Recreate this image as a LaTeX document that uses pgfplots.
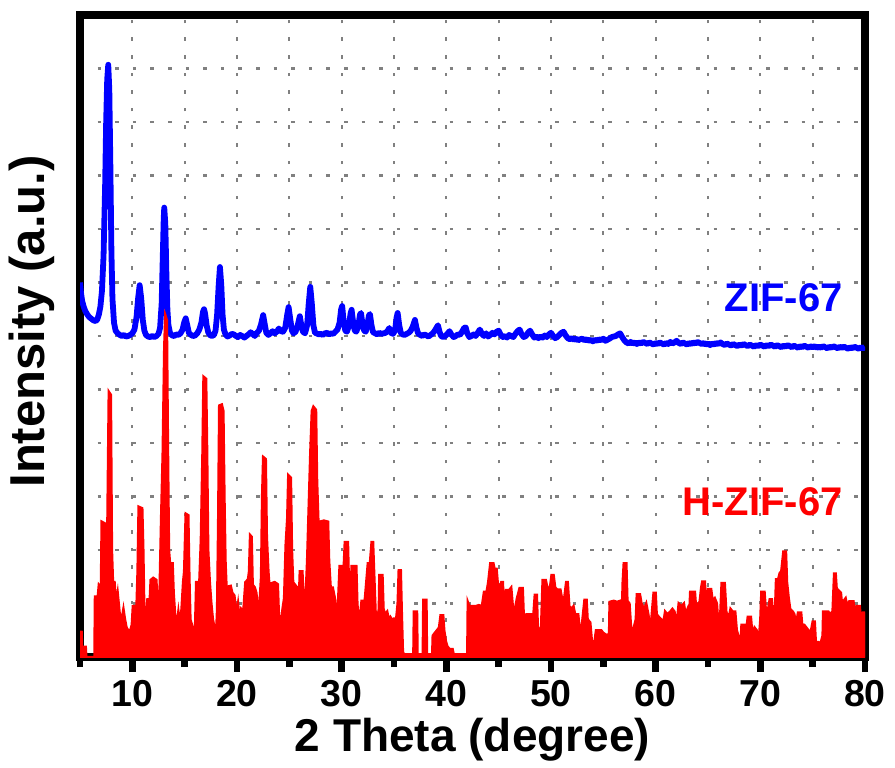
\documentclass[border=0pt]{standalone}
\usepackage{fontspec}
\setmainfont{Liberation Sans}
\usepackage{pgfplots}
\pgfplotsset{compat=1.18}
\begin{document}
\begin{tikzpicture}
\path[use as bounding box] (-40pt,-55pt) rectangle (407.5pt,328.5pt);
\begin{axis}[
  at={(0pt,0pt)}, anchor=south west,
  scale only axis, width=392.5pt, height=321pt,
  xmin=5, xmax=80, ymin=0, ymax=12,
  xtick={10,20,...,80},
  xticklabels={10,20,30,40,50,60,70,80},
  minor xtick={5,15,25,...,75},
  ytick={1,2,...,11},
  yticklabels={},
  xtick pos=bottom, ytick pos=left,
  tick align=outside,
  major tick length=7.5pt, minor tick length=5pt,
  x tick style={line width=3.2pt, black},
  y tick style={draw=none},
  axis line style={line width=3.6pt, black, line cap=rect},
  separate axis lines,
  every outer x axis line/.append style={line width=3.6pt, black, line cap=rect},
  every outer y axis line/.append style={line width=3.6pt, black, line cap=rect},
  grid=both,
  grid style={gray, line width=1.1pt, dash pattern=on 1.8pt off 7pt},
  minor grid style={gray, line width=1.1pt, dash pattern=on 1.8pt off 7pt},
  xticklabel style={font=\fontsize{18.75}{20}\selectfont\bfseries, anchor=north, inner sep=0pt},
  xticklabel shift=4pt,
  xlabel={2 Theta (degree)},
  ylabel={Intensity (a.u.)},
  xlabel style={at={(axis description cs:0.5,-0.129)}, anchor=center, font=\fontsize{23}{26}\selectfont\bfseries},
  ylabel style={at={(axis description cs:-0.0611,0.5226)}, anchor=center, font=\fontsize{24.5}{28}\selectfont\bfseries},
]
\addplot[blue, line width=2.9pt, line join=round] coordinates {
(5.00,7.00) (5.10,6.80) (5.20,6.66) (5.35,6.55) (5.50,6.47) (5.70,6.40) (5.90,6.35) (6.10,6.32) (6.30,6.29) (6.50,6.28)
(6.65,6.31) (6.80,6.40) (6.95,6.55) (7.10,6.85) (7.25,7.50) (7.40,8.80) (7.50,10.0) (7.60,10.8) (7.70,11.07) (7.80,10.6)
(7.90,9.2) (8.00,7.6) (8.10,6.7) (8.25,6.25) (8.40,6.10) (8.60,6.05) (8.80,6.02) (9.00,6.00) (9.20,6.02) (9.40,5.99)
(9.60,6.00) (9.80,6.02) (10.00,6.05) (10.20,6.12) (10.40,6.35) (10.55,6.70) (10.70,6.95) (10.85,6.70) (11.00,6.30) (11.15,6.10)
(11.30,6.02) (11.50,5.99) (11.70,5.98) (11.90,6.00) (12.10,5.98) (12.30,6.00) (12.50,6.04) (12.65,6.15) (12.80,6.60) (12.90,7.40)
(13.00,8.20) (13.05,8.40) (13.15,8.10) (13.25,7.20) (13.35,6.50) (13.45,6.20) (13.60,6.06) (13.80,6.01) (14.00,6.00) (14.20,6.03)
(14.40,6.02) (14.60,6.05) (14.80,6.12) (14.95,6.25) (15.10,6.33) (15.25,6.20) (15.40,6.06) (15.60,6.02) (15.80,6.00) (16.00,6.01)
(16.20,6.05) (16.40,6.12) (16.60,6.25) (16.75,6.45) (16.85,6.50) (16.95,6.42) (17.10,6.20) (17.25,6.07) (17.40,6.02) (17.60,6.00)
(17.80,6.02) (17.95,6.10) (18.10,6.40) (18.25,6.95) (18.37,7.29) (18.50,6.95) (18.62,6.40) (18.75,6.12) (18.90,6.03) (19.10,5.99)
(19.30,6.01) (19.50,6.04) (19.70,6.03) (19.90,6.00) (20.10,5.98) (20.30,6.02) (20.50,6.00) (20.70,5.97) (20.90,6.00) (21.10,6.03)
(21.30,6.07) (21.50,6.04) (21.70,6.00) (21.90,6.06) (22.10,6.10) (22.30,6.22) (22.50,6.39) (22.65,6.22) (22.80,6.06) (23.00,6.02)
(23.20,6.05) (23.40,6.09) (23.60,6.05) (23.80,6.08) (24.00,6.14) (24.20,6.09) (24.40,6.08) (24.60,6.15) (24.80,6.40) (24.93,6.54)
(25.10,6.30) (25.25,6.10) (25.40,6.05) (25.60,6.08) (25.80,6.20) (26.00,6.37) (26.15,6.20) (26.30,6.08) (26.50,6.05) (26.70,6.20)
(26.85,6.60) (27.00,6.92) (27.15,6.60) (27.30,6.20) (27.45,6.06) (27.60,6.05) (27.80,6.03) (28.00,6.04) (28.20,6.02) (28.40,6.05)
(28.60,6.06) (28.80,6.03) (29.00,6.05) (29.20,6.04) (29.40,6.08) (29.60,6.12) (29.80,6.25) (29.95,6.50) (30.05,6.56) (30.20,6.25)
(30.35,6.10) (30.50,6.08) (30.70,6.20) (30.85,6.42) (30.95,6.49) (31.10,6.25) (31.25,6.10) (31.40,6.08) (31.60,6.20) (31.75,6.40)
(31.85,6.43) (32.00,6.20) (32.15,6.10) (32.30,6.08) (32.45,6.20) (32.60,6.38) (32.70,6.41) (32.85,6.20) (33.00,6.07) (33.20,6.05)
(33.40,6.03) (33.60,6.06) (33.80,6.04) (34.00,6.05) (34.20,6.06) (34.40,6.10) (34.55,6.15) (34.70,6.06) (34.90,6.04) (35.10,6.10)
(35.25,6.35) (35.35,6.43) (35.50,6.20) (35.65,6.06) (35.80,6.03) (36.00,6.02) (36.20,6.04) (36.40,6.06) (36.60,6.10) (36.80,6.18)
(37.00,6.30) (37.15,6.15) (37.30,6.05) (37.50,6.02) (37.70,6.00) (37.90,6.03) (38.10,6.01) (38.30,5.99) (38.50,6.02) (38.70,6.05)
(38.90,6.10) (39.05,6.15) (39.20,6.20) (39.35,6.08) (39.50,6.00) (39.70,5.98) (39.90,6.00) (40.10,6.04) (40.30,6.09) (40.50,6.02)
(40.70,5.98) (40.90,6.00) (41.10,6.03) (41.30,6.02) (41.50,6.08) (41.70,6.15) (41.85,6.16) (42.00,6.05) (42.20,5.98) (42.40,6.00)
(42.60,6.03) (42.80,6.00) (43.00,6.06) (43.20,6.12) (43.40,6.04) (43.60,6.00) (43.80,6.05) (44.00,5.99) (44.20,6.02) (44.40,6.06)
(44.60,6.03) (44.80,6.08) (45.00,6.10) (45.20,6.02) (45.40,5.98) (45.60,6.00) (45.80,5.97) (46.00,6.02) (46.20,6.00) (46.40,5.98)
(46.60,6.04) (46.80,6.09) (47.00,6.12) (47.20,6.03) (47.40,5.98) (47.60,6.00) (47.80,6.06) (48.00,6.10) (48.20,6.03) (48.40,5.97)
(48.60,5.99) (48.80,5.96) (49.00,5.99) (49.20,5.97) (49.40,6.01) (49.60,5.98) (49.80,6.03) (50.00,6.06) (50.20,6.00) (50.40,5.96)
(50.60,5.98) (50.80,6.02) (51.00,6.06) (51.20,6.08) (51.40,6.01) (51.60,5.96) (51.80,5.94) (52.00,5.96) (52.20,5.93) (52.40,5.95)
(52.60,5.92) (52.80,5.94) (53.00,5.95) (53.20,5.92) (53.40,5.94) (53.60,5.91) (53.80,5.93) (54.00,5.90) (54.20,5.93) (54.40,5.91)
(54.60,5.94) (54.80,5.92) (55.00,5.95) (55.20,5.91) (55.40,5.93) (55.60,5.95) (55.80,5.98) (56.00,5.99) (56.20,6.00) (56.40,6.03)
(56.60,6.05) (56.80,5.98) (57.00,5.92) (57.20,5.88) (57.40,5.86) (57.60,5.89) (57.80,5.86) (58.00,5.88) (58.20,5.85) (58.40,5.88)
(58.60,5.86) (58.80,5.89) (59.00,5.87) (59.20,5.85) (59.40,5.88) (59.60,5.86) (59.80,5.84) (60.00,5.87) (60.20,5.85) (60.40,5.88)
(60.60,5.86) (60.80,5.84) (61.00,5.87) (61.20,5.85) (61.40,5.89) (61.60,5.86) (61.80,5.88) (62.00,5.91) (62.20,5.87) (62.40,5.85)
(62.60,5.88) (62.80,5.86) (63.00,5.84) (63.20,5.87) (63.40,5.85) (63.60,5.88) (63.80,5.86) (64.00,5.89) (64.20,5.87) (64.40,5.85)
(64.60,5.87) (64.80,5.84) (65.00,5.86) (65.20,5.83) (65.40,5.86) (65.60,5.84) (65.80,5.87) (66.00,5.85) (66.20,5.88) (66.40,5.85)
(66.60,5.83) (66.80,5.86) (67.00,5.84) (67.20,5.82) (67.40,5.85) (67.60,5.83) (67.80,5.81) (68.00,5.84) (68.20,5.82) (68.40,5.85)
(68.60,5.83) (68.80,5.81) (69.00,5.84) (69.20,5.82) (69.40,5.80) (69.60,5.83) (69.80,5.81) (70.00,5.84) (70.20,5.82) (70.40,5.80)
(70.60,5.83) (70.80,5.81) (71.00,5.84) (71.20,5.82) (71.40,5.80) (71.60,5.83) (71.80,5.81) (72.00,5.79) (72.20,5.82) (72.40,5.80)
(72.60,5.83) (72.80,5.81) (73.00,5.79) (73.20,5.82) (73.40,5.80) (73.60,5.78) (73.80,5.81) (74.00,5.79) (74.20,5.82) (74.40,5.80)
(74.60,5.78) (74.80,5.81) (75.00,5.79) (75.20,5.81) (75.40,5.78) (75.60,5.80) (75.80,5.78) (76.00,5.81) (76.20,5.79) (76.40,5.77)
(76.60,5.80) (76.80,5.78) (77.00,5.81) (77.20,5.79) (77.40,5.77) (77.60,5.80) (77.80,5.78) (78.00,5.80) (78.20,5.78) (78.40,5.76)
(78.60,5.79) (78.80,5.77) (79.00,5.80) (79.20,5.78) (79.40,5.76) (79.60,5.79) (79.80,5.77) (80.00,5.79)
};
\addplot[red, fill=red, line width=1.2pt, line join=miter] coordinates {
(5.00,0.47) (5.15,0.47) (5.20,0.19) (5.55,0.19) (5.60,0.00) (6.38,0.00) (6.43,1.13) (6.70,1.13) (6.80,1.35) (7.00,1.30)
(7.07,2.53) (7.35,2.50) (7.45,1.60) (7.60,2.20) (7.75,4.96) (7.95,4.90) (8.05,2.00) (8.15,1.40) (8.30,1.40) (8.45,1.00)
(8.60,1.20) (8.80,0.80) (9.00,0.73) (9.15,0.90) (9.30,0.70) (9.45,0.55) (9.60,0.50) (9.80,0.50) (9.95,0.60) (10.05,0.95)
(10.40,0.95) (10.50,1.60) (10.60,2.81) (10.95,2.78) (11.05,2.00) (11.15,0.80) (11.30,0.70) (11.45,1.10) (11.60,0.80) (11.75,1.44)
(12.00,1.48) (12.30,1.44) (12.45,0.70) (12.60,1.20) (12.75,2.60) (12.90,3.80) (13.05,5.80) (13.15,6.39) (13.30,6.30) (13.40,4.00)
(13.50,2.00) (13.60,1.75) (13.85,1.75) (13.95,1.20) (14.10,0.75) (14.25,0.60) (14.40,0.85) (14.55,0.60) (14.70,0.90) (14.85,1.40)
(14.95,1.60) (15.10,2.68) (15.35,2.65) (15.45,1.50) (15.55,0.70) (15.70,0.60) (15.85,0.40) (16.00,0.60) (16.10,1.40) (16.40,1.40)
(16.55,2.20) (16.70,3.80) (16.80,5.24) (17.05,5.20) (17.15,3.80) (17.25,2.00) (17.40,1.40) (17.55,1.00) (17.70,0.70) (17.85,0.55)
(18.00,0.40) (18.10,0.90) (18.20,2.50) (18.30,4.70) (18.55,4.72) (18.70,4.60) (18.80,3.00) (18.90,1.80) (19.00,1.31) (19.40,1.33)
(19.55,1.20) (19.75,1.15) (19.95,0.80) (20.10,1.00) (20.25,0.70) (20.40,0.90) (20.60,0.85) (20.80,1.40) (21.05,1.45) (21.15,1.60)
(21.25,2.28) (21.40,2.25) (21.50,1.35) (21.70,1.30) (21.85,1.20) (22.00,0.90) (22.15,1.00) (22.30,1.50) (22.40,3.00) (22.50,3.74)
(22.75,3.70) (22.85,2.25) (23.00,1.60) (23.15,1.20) (23.30,1.38) (23.60,1.40) (23.90,1.36) (24.00,0.80) (24.20,0.60) (24.35,0.90)
(24.50,1.10) (24.65,2.10) (24.80,2.60) (24.90,3.40) (25.15,3.35) (25.25,2.00) (25.40,1.20) (25.55,1.35) (25.75,1.30) (25.90,1.00)
(26.00,1.60) (26.25,1.60) (26.40,0.90) (26.55,1.10) (26.70,1.80) (26.85,2.80) (27.00,3.80) (27.15,4.60) (27.30,4.68) (27.55,4.62)
(27.65,3.30) (27.80,2.40) (27.90,2.53) (28.30,2.55) (28.70,2.53) (28.80,1.80) (28.95,1.30) (29.15,1.30) (29.35,1.10) (29.50,0.80)
(29.65,1.00) (29.80,1.70) (30.20,1.70) (30.30,2.15) (30.60,2.15) (30.70,1.30) (30.85,1.10) (30.95,1.70) (31.40,1.70) (31.50,1.00)
(31.65,0.60) (31.75,0.75) (31.90,1.05) (32.20,1.05) (32.35,1.40) (32.50,1.75) (32.70,1.75) (32.86,2.15) (33.00,2.15) (33.10,1.60)
(33.25,0.80) (33.40,0.70) (33.55,0.90) (33.60,1.53) (33.90,1.53) (34.00,0.90) (34.15,0.80) (34.35,0.85) (34.50,0.70) (34.65,0.75)
(34.80,0.70) (35.00,0.72) (35.20,0.70) (35.35,1.00) (35.45,1.62) (35.65,1.62) (35.75,0.80) (35.85,0.10) (35.95,0.05) (36.85,0.05)
(36.90,0.85) (37.20,0.85) (37.25,0.05) (37.75,0.05) (37.80,1.07) (38.10,1.07) (38.15,0.05) (38.65,0.05) (38.70,0.40) (38.90,0.45)
(39.10,0.50) (39.30,0.55) (39.45,0.78) (39.70,0.78) (39.80,0.50) (39.95,0.30) (40.10,0.20) (40.30,0.15) (40.60,0.15) (40.70,0.05)
(42.00,0.05) (42.05,1.03) (42.20,0.95) (42.50,0.95) (42.80,0.95) (43.10,0.97) (43.40,0.95) (43.60,1.22) (43.85,1.22) (44.00,1.40)
(44.20,1.75) (44.50,1.75) (44.60,1.65) (44.80,1.65) (44.95,1.30) (45.10,1.30) (45.25,1.40) (45.40,1.40) (45.50,0.95) (45.70,1.25)
(46.00,1.25) (46.20,1.30) (46.35,0.95) (46.55,0.90) (46.75,1.10) (47.00,1.29) (47.30,1.29) (47.45,0.50) (47.65,0.80) (48.10,0.80)
(48.25,0.60) (48.45,1.16) (48.65,1.16) (48.75,0.50) (49.05,0.55) (49.20,1.44) (49.50,1.44) (49.65,1.30) (49.90,1.30) (50.05,1.53)
(50.25,1.53) (50.40,1.30) (50.60,1.26) (50.90,1.26) (51.05,1.10) (51.20,1.00) (51.45,1.40) (51.60,1.40) (51.75,0.95) (51.95,0.90)
(52.15,0.95) (52.30,0.80) (52.60,0.80) (52.75,0.50) (52.95,0.60) (53.20,1.07) (53.40,1.07) (53.50,0.70) (53.75,0.65) (53.95,0.20)
(54.10,0.20) (54.30,0.50) (54.80,0.50) (55.00,0.45) (55.40,0.40) (55.55,0.45) (55.60,1.03) (56.00,1.05) (56.30,1.03) (56.60,1.05)
(56.75,0.70) (56.85,1.40) (56.95,1.75) (57.20,1.75) (57.30,1.05) (57.50,1.00) (57.70,0.40) (57.90,0.55) (58.10,0.70) (58.20,1.17)
(58.50,1.17) (58.65,1.00) (58.90,0.90) (59.10,1.00) (59.30,0.80) (59.50,0.50) (59.65,0.85) (59.80,1.20) (60.00,1.20) (60.10,0.80)
(60.30,0.75) (60.55,0.70) (60.70,0.60) (60.90,0.85) (61.10,0.80) (61.40,0.85) (61.60,0.90) (61.80,0.85) (61.95,0.60) (62.10,0.80)
(62.20,1.00) (62.45,0.95) (62.70,1.00) (62.85,0.80) (63.05,0.90) (63.20,0.75) (63.30,1.22) (63.75,1.22) (63.85,0.95) (64.20,1.03)
(64.35,1.30) (64.45,1.41) (64.70,1.41) (64.85,0.85) (65.00,1.27) (65.30,1.27) (65.45,1.05) (65.65,1.10) (65.85,1.00) (66.00,0.60)
(66.15,0.70) (66.30,1.38) (66.60,1.38) (66.75,0.85) (66.95,0.70) (67.15,0.90) (67.35,0.85) (67.60,0.85) (67.75,0.50) (67.90,0.40)
(68.00,0.20) (68.15,0.40) (68.20,0.60) (68.50,0.60) (68.60,0.40) (68.80,0.75) (69.10,0.75) (69.25,0.40) (69.45,0.55) (69.65,0.50)
(69.85,0.30) (70.00,0.70) (70.10,1.22) (70.40,1.22) (70.55,0.80) (70.70,0.85) (70.90,1.08) (71.10,1.08) (71.25,0.70) (71.40,0.85)
(71.50,1.45) (71.70,1.45) (71.85,1.57) (72.00,1.60) (72.20,1.97) (72.45,1.97) (72.55,1.40) (72.70,1.12) (72.85,0.90) (73.10,0.85)
(73.25,0.80) (73.40,0.60) (73.60,0.83) (73.90,0.83) (74.00,0.60) (74.20,0.60) (74.40,0.55) (74.60,0.50) (74.80,0.45) (75.00,0.66)
(75.20,0.66) (75.30,0.28) (75.55,0.28) (75.75,0.25) (75.95,0.40) (76.00,0.85) (76.50,0.85) (76.65,0.80) (76.90,0.85) (77.05,1.56)
(77.20,1.56) (77.35,1.10) (77.45,1.25) (77.70,1.20) (77.85,0.90) (77.95,1.05) (78.15,1.10) (78.30,0.95) (78.50,1.04) (78.90,1.04)
(79.05,0.80) (79.20,0.95) (79.50,0.95) (79.65,0.60) (79.80,0.83) (80.00,0.83)
} \closedcycle;
\node[anchor=east, inner sep=0pt, text=blue, font=\fontsize{20}{24}\selectfont\bfseries] at (axis cs:77.9,6.71) {ZIF-67};
\node[anchor=east, inner sep=0pt, text=red, font=\fontsize{20}{24}\selectfont\bfseries] at (axis cs:77.9,2.9) {H-ZIF-67};
\end{axis}
\end{tikzpicture}
\end{document}
